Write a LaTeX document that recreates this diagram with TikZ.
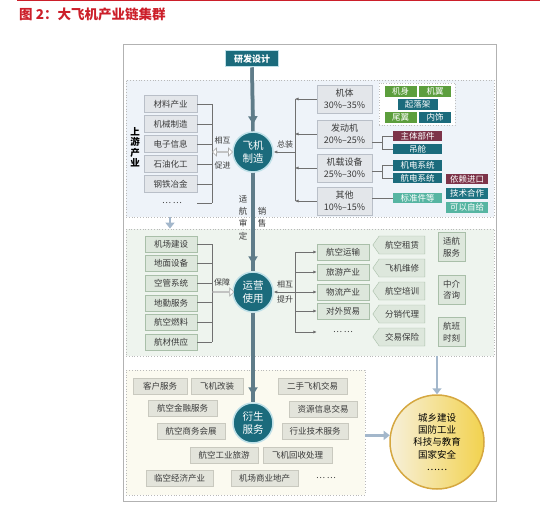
\documentclass[tikz,border=0pt]{standalone}
\usepackage{fontspec}
\setmainfont{Noto Sans CJK SC}
\usetikzlibrary{shapes.arrows,shapes.symbols,arrows.meta,calc}
\definecolor{cTitle}{HTML}{CC1F2A}
\definecolor{cTeal}{HTML}{1B6B7C}
\definecolor{cTealL}{HTML}{56B5A2}
\definecolor{cTealB}{HTML}{1F7382}
\definecolor{cGreen}{HTML}{5C9E3D}
\definecolor{cMaroon}{HTML}{7D3349}
\definecolor{cSpine}{HTML}{5F7C89}
\definecolor{cRing}{HTML}{BFE0E8}
\definecolor{cUpBg}{HTML}{EEF3F9}
\definecolor{cMidBg}{HTML}{EEF4EE}
\definecolor{cBotBg}{HTML}{FBFAF0}
\definecolor{cBoxU}{HTML}{E3E6EA}
\definecolor{cBoxUL}{HTML}{B9BFC8}
\definecolor{cBoxM}{HTML}{DDE7DC}
\definecolor{cBoxML}{HTML}{A9BFA9}
\definecolor{cBoxB}{HTML}{E3E4DB}
\definecolor{cBoxBL}{HTML}{C9C9BF}
\definecolor{cTxt}{HTML}{3A3A3A}
\definecolor{cLine}{HTML}{707070}
\definecolor{cDot}{HTML}{A3B7CB}
\definecolor{cGold}{HTML}{D5A740}
\definecolor{cGoldR}{HTML}{F2D24E}
\definecolor{cGoldL}{HTML}{F7F0DA}
\begin{document}
\begin{tikzpicture}[x=1pt,y=-1pt,
  every node/.style={font=\fontsize{8.5}{10}\selectfont, text=cTxt, inner sep=0pt},
  conn/.style={draw=cLine, line width=0.7pt},
  tipl/.style={-{Latex[length=3.5pt,width=3.2pt]}},
  block/.style={draw=gray!55, dotted, line width=0.8pt},
  hub/.style={circle, fill=cTeal, draw=cRing, line width=1.5pt, minimum size=40pt,
    text=white, font=\fontsize{10.5}{12.5}\selectfont, align=center},
  ubox/.style={draw=cBoxUL, fill=cBoxU, minimum width=53pt, minimum height=17pt},
  rbox/.style={draw=cBoxUL, fill=cBoxU, minimum width=55pt, minimum height=28pt,
    align=center, font=\fontsize{9}{11.5}\selectfont},
  tag/.style={minimum height=10.5pt, text=white, font=\fontsize{8.5}{9}\selectfont},
  mbox/.style={draw=cBoxML, fill=cBoxM, minimum width=52pt, minimum height=16pt},
  pbox/.style={signal, signal to=west, signal pointer angle=110, draw=cBoxML, fill=cBoxM,
    minimum width=52pt, minimum height=18pt},
  qbox/.style={draw=cBoxML, fill=cBoxM, minimum width=27pt, minimum height=29pt,
    align=center, font=\fontsize{8.5}{11.5}\selectfont},
  bbox/.style={draw=cBoxBL, fill=cBoxB, minimum height=16pt},
  spine/.style={draw=cSpine, line width=3.5pt},
  spinearrow/.style={spine, -{Triangle[length=8pt,width=9pt]}},
  dotarrow/.style={draw=cDot, line width=2.5pt, dash pattern=on 1.2pt off 0.8pt,
    -{Triangle[length=6pt,width=9pt]}},
  lbl/.style={font=\fontsize{8.5}{12.3}\selectfont, align=center},
  small/.style={font=\fontsize{8}{10}\selectfont}
]
\useasboundingbox (0,0) rectangle (554,505);

% title
\draw[cTitle, line width=1pt] (17,0.5) -- (540,0.5);
\node[anchor=west, text=cTitle, font=\fontsize{13.5}{15}\selectfont\bfseries] (title) at (19,14) {图 2：大飞机产业链集群};

% frame and blocks
\node[draw=gray!60, line width=0.8pt, minimum width=373pt, minimum height=457pt] (frame) at (309.5,272.5) {};
\node[block, fill=cUpBg, minimum width=368pt, minimum height=137pt] (upblk) at (310,148.5) {};
\node[block, fill=cMidBg, minimum width=368pt, minimum height=127pt] (midblk) at (310,292.5) {};
\node[block, fill=cBotBg, minimum width=239pt, minimum height=125pt] (botblk) at (245.5,432.5) {};

% top box
\node[fill=cTeal, draw=cRing, line width=1pt, minimum width=53pt, minimum height=16pt,
  text=white, font=\fontsize{9}{10}\selectfont\bfseries] (yf) at (252,59) {研发设计};

% hubs
\node[hub] (fj) at (253,152) {飞机\\制造};
\node[hub] (yy) at (253,292) {运营\\使用};
\node[hub] (ys) at (253,423) {衍生\\服务};

% spine
\draw[spine] (yf.south) -- (fj.north);
\draw[spinearrow] (yf.south) -- ([yshift=7pt]fj.north);
\draw[spine] (fj.south) -- (yy.north);
\draw[spinearrow] (fj.south) -- ([yshift=7pt]yy.north);
\draw[spine] (yy.south) -- (ys.north);
\draw[spinearrow] (yy.south) -- ([yshift=7pt]ys.north);
\node[lbl] (shsd) at (243,217.5) {适\\航\\审\\定};
\node[lbl] (xs) at (262,217) {销\\售};

% upper left
\node[font=\fontsize{9.5}{10.5}\selectfont\bfseries, text=black, align=center] (sy) at (135,147) {上\\游\\产\\业};
\node[ubox] (u1) at (170.5,104) {材料产业};
\node[ubox] (u2) at (170.5,124) {机械制造};
\node[ubox] (u3) at (170.5,144) {电子信息};
\node[ubox] (u4) at (170.5,164) {石油化工};
\node[ubox] (u5) at (170.5,184) {钢铁冶金};
\node (udots) at (172,203) {… …};
\coordinate (ubr) at (212,0);
\foreach \n in {u1,u2,u3,u4,u5} \draw[conn] (\n.east) -- (\n.east -| ubr);
\draw[conn] (udots.east -| u5.east) -- (udots.east -| ubr);
\draw[conn] (u1.east -| ubr) -- (udots.east -| ubr);
\node[double arrow, draw=gray!70, fill=white, line width=0.6pt, minimum height=20pt, minimum width=8pt,
  double arrow head extend=1.8pt] (dbl) at (222.5,152) {};
\node[small] (xh1) at (222.5,140) {相互};
\node[small] (xh2) at (222.5,165) {促进};

% upper right
\node[rbox] (r1) at (344.5,99) {机体\\30\%–35\%};
\node[rbox] (r2) at (344.5,134) {发动机\\20\%–25\%};
\node[rbox] (r3) at (344.5,168) {机载设备\\25\%–30\%};
\node[rbox] (r4) at (344.5,201) {其他\\10\%–15\%};
\coordinate (rbr) at (295,0);
\foreach \n in {r1,r2,r3,r4} \draw[conn, tipl] (\n.west) -- (\n.west -| rbr);
\draw[conn] (r1.west -| rbr) -- (r4.west -| rbr);
\draw[conn, tipl] (fj.east -| rbr) -- (fj.east);
\node[small] (zz) at (285,144) {总装};

% far right
\node[draw=gray!50, dotted, line width=0.7pt, fill=white, minimum width=76pt, minimum height=42pt] (grp) at (417,104) {};
\node[tag, fill=cGreen, minimum width=32pt] (t1) at (400.5,91.5) {机身};
\node[tag, fill=cGreen, minimum width=32pt] (t2) at (435,91.5) {机翼};
\node[tag, fill=cTeal, minimum width=40pt] (t3) at (417.5,104.5) {起落架};
\node[tag, fill=cGreen, minimum width=32pt] (t4) at (400.5,117.5) {尾翼};
\node[tag, fill=cTeal, minimum width=32pt] (t5) at (435,117.5) {内饰};
\node[tag, fill=cMaroon, minimum width=49pt] (t6) at (417.5,136) {主体部件};
\node[tag, fill=cTeal, minimum width=49pt] (t7) at (417.5,149) {吊舱};
\node[tag, fill=cTeal, minimum width=49pt] (t8) at (417.5,165.5) {机电系统};
\node[tag, fill=cTeal, minimum width=49pt] (t9) at (417.5,178) {航电系统};
\node[tag, fill=cMaroon, minimum width=42pt] (t10) at (467,179) {依赖进口};
\node[tag, fill=cTealL, minimum width=49pt] (t11) at (417.5,198) {标准件等};
\node[tag, fill=cTealB, minimum width=42pt] (t12) at (467,193.5) {技术合作};
\node[tag, fill=cTealL, minimum width=42pt] (t13) at (467,207.5) {可以自给};
\coordinate (fb) at (382,0);
\coordinate (m67) at ($(t6.west)!0.5!(t7.west)$);
\coordinate (m89) at ($(t8.west)!0.5!(t9.west)$);
\draw[conn] (t6.west) -| (fb |- t7.west) -- (t7.west);
\draw[conn] (t8.west) -| (fb |- t9.west) -- (t9.west);
\draw[conn] (m67 -| r2.east) -- (m67 -| fb);
\draw[conn] (m89 -| r3.east) -- (m89 -| fb);
\draw[conn] (t11.west -| r4.east) -- (t11.west);

% middle left
\node[mbox] (m1) at (171,244) {机场建设};
\node[mbox] (m2) at (171,263.6) {地面设备};
\node[mbox] (m3) at (171,283.2) {空管系统};
\node[mbox] (m4) at (171,302.8) {地勤服务};
\node[mbox] (m5) at (171,322.4) {航空燃料};
\node[mbox] (m6) at (171,342) {航材供应};
\coordinate (mbl) at (212,0);
\foreach \n in {m1,m2,m3,m4,m5,m6} \draw[conn] (\n.east) -- (\n.east -| mbl);
\draw[conn] (m1.east -| mbl) -- (m6.east -| mbl);
\node[single arrow, draw=gray!70, fill=white, line width=0.6pt, minimum height=21pt, minimum width=8pt,
  single arrow head extend=1.8pt] (sa) at (223,292) {};
\node[small] (bz) at (222,282) {保障};

% middle right
\node[mbox] (n1) at (343,252) {航空运输};
\node[mbox] (n2) at (343,272) {旅游产业};
\node[mbox] (n3) at (343,292) {物流产业};
\node[mbox] (n4) at (343,311) {对外贸易};
\node (ndots) at (343,332) {… …};
\coordinate (mbr) at (295,0);
\foreach \n in {n1,n2,n3,n4} \draw[conn, tipl] (\n.west -| mbr) -- (\n.west);
\draw[conn, tipl] (ndots.west -| mbr) -- (ndots.west -| n1.west);
\draw[conn] (n1.west -| mbr) -- (ndots.west -| mbr);
\draw[conn, tipl] (yy.east -| mbr) -- (yy.east);
\node[small] (xt1) at (285,284) {相互};
\node[small] (xt2) at (285,299) {提升};

\node[pbox] (p1) at (402,245) {航空租赁};
\node[pbox] (p2) at (402,268) {飞机维修};
\node[pbox] (p3) at (402,291) {航空培训};
\node[pbox] (p4) at (402,314) {分销代理};
\node[pbox] (p5) at (402,337) {交易保险};
\node[qbox] (q1) at (451.5,247) {适航\\服务};
\node[qbox] (q2) at (451.5,290) {中介\\咨询};
\node[qbox] (q3) at (451.5,332) {航班\\时刻};

% bottom
\node[bbox, minimum width=54pt] (b1) at (160,386) {客户服务};
\node[bbox, minimum width=52pt] (b2) at (217,386) {飞机改装};
\node[bbox, minimum width=69pt] (b3) at (312.5,386) {二手飞机交易};
\node[bbox, minimum width=69pt] (b4) at (182.5,408.5) {航空金融服务};
\node[bbox, minimum width=68pt] (b5) at (323,409) {资源信息交易};
\node[bbox, minimum width=68pt] (b6) at (191,431) {航空商务会展};
\node[bbox, minimum width=66pt] (b7) at (315,431) {行业技术服务};
\node[bbox, minimum width=68pt] (b8) at (224,455) {航空工业旅游};
\node[bbox, minimum width=69pt] (b9) at (297.5,455) {飞机回收处理};
\node[bbox, minimum width=67pt] (b10) at (179.5,478) {临空经济产业};
\node[bbox, minimum width=67pt] (b11) at (264.5,478) {机场商业地产};
\node (bdots) at (326,478) {… …};

% big circle
\node[circle, draw=cGold, line width=1.5pt, left color=cGoldL, right color=cGoldR,
  minimum size=94pt, align=center, text=black, font=\fontsize{9.5}{12.2}\selectfont] (bigc) at (437,442)
  {城乡建设\\国防工业\\科技与教育\\国家安全\\……};

% dotted arrows
\coordinate (da) at (170,0);
\draw[dotarrow] (da |- upblk.south) -- (da |- midblk.north);
\draw[dotarrow] (bigc.north |- midblk.south) -- (bigc.north);
\draw[dotarrow] (botblk.east |- bigc.172) -- (bigc.172);
\end{tikzpicture}
\end{document}
